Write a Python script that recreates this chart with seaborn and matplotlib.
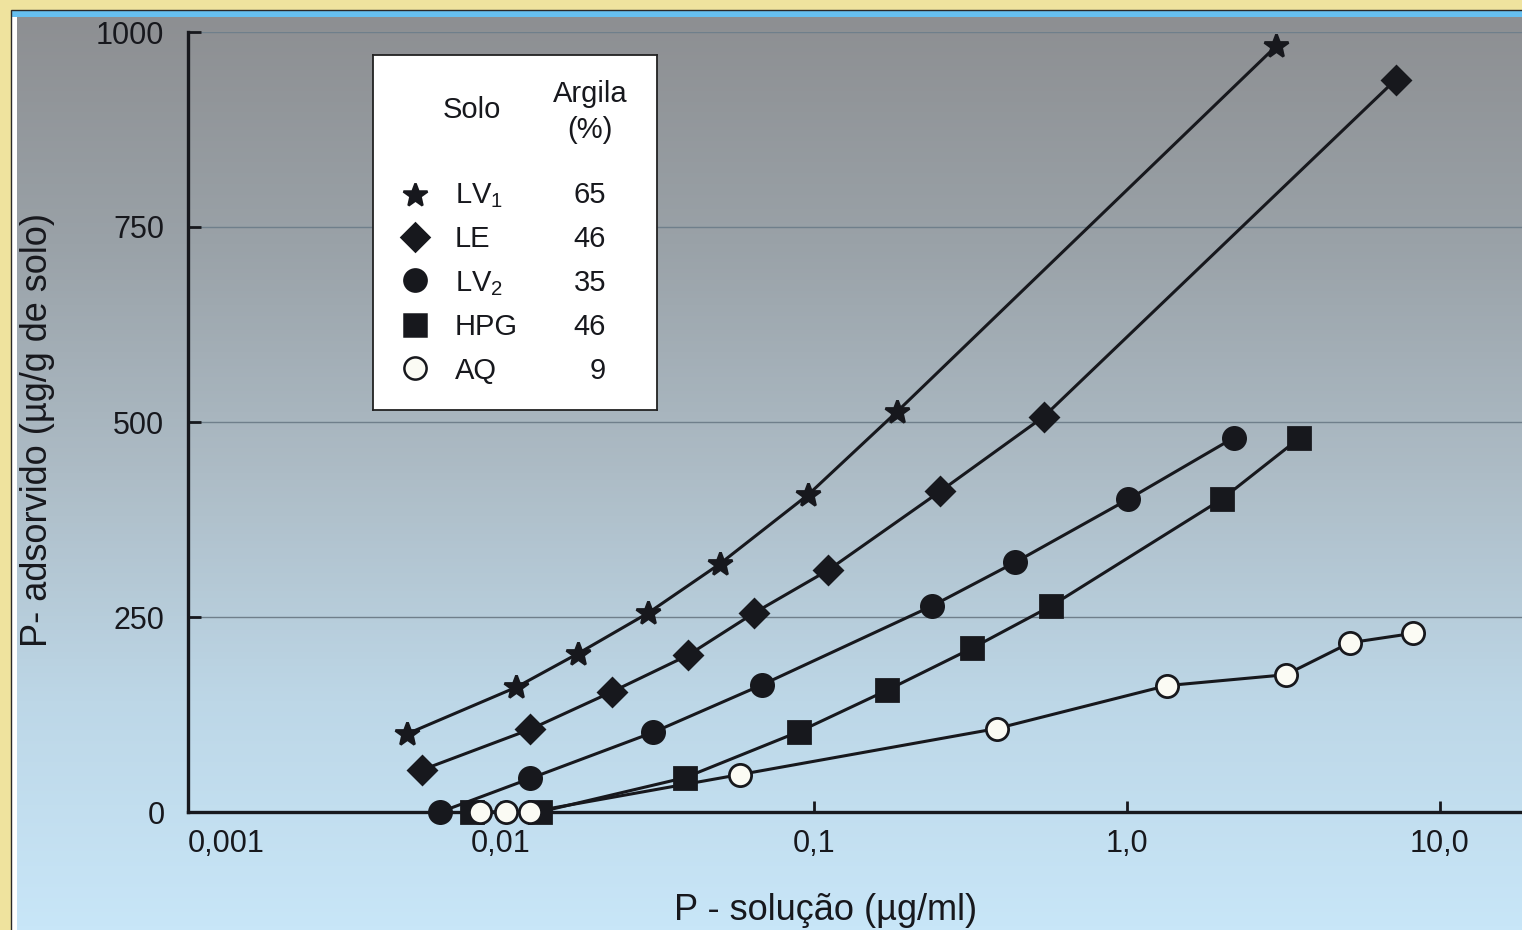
import numpy as np
import pandas as pd
import seaborn as sns
import matplotlib.pyplot as plt
from matplotlib.patches import Rectangle
from matplotlib.colors import LinearSegmentedColormap
from matplotlib.ticker import NullLocator

# values (P adsorption isotherms)
solos = ['LV1', 'LE', 'LV2', 'HPG', 'AQ']
solo_labels = [r'LV$_{\mathregular{1}}$', 'LE', r'LV$_{\mathregular{2}}$', 'HPG', 'AQ']
argila = [65, 46, 35, 46, 9]

lv1_x = [0.0050, 0.0112, 0.0176, 0.0295, 0.050, 0.096, 0.184, 3.0]
lv1_y = [100, 160, 203, 255, 318, 407, 513, 982]
le_x = [0.0056, 0.0124, 0.0226, 0.0396, 0.0643, 0.111, 0.253, 0.543, 7.23]
le_y = [54, 106, 154, 201, 255, 310, 411, 507, 939]
lv2_x = [0.0064, 0.0124, 0.0306, 0.0682, 0.238, 0.439, 1.01, 2.20]
lv2_y = [0, 43, 102, 163, 264, 320, 401, 480]
hpg_x = [0.0081, 0.0133, 0.0387, 0.0896, 0.171, 0.320, 0.572, 2.01, 3.55]
hpg_y = [0, 0, 44, 103, 156, 210, 264, 401, 479]
aq_x = [0.0086, 0.0104, 0.0124, 0.058, 0.384, 1.34, 3.22, 5.16, 8.20]
aq_y = [0, 0, 0, 48, 107, 162, 176, 217, 229]

xticks = [0.001, 0.01, 0.1, 1, 10]
xticklabels = ['0,001', '0,01', '0,1', '1,0', '10,0']
yticks = [0, 250, 500, 750, 1000]

series = {'LV1': (lv1_x, lv1_y), 'LE': (le_x, le_y), 'LV2': (lv2_x, lv2_y),
          'HPG': (hpg_x, hpg_y), 'AQ': (aq_x, aq_y)}
df = pd.concat([pd.DataFrame({'solo': k, 'x': v[0], 'y': v[1]}) for k, v in series.items()])

sns.set_style('ticks')
plt.rcParams['font.family'] = ['Liberation Sans', 'DejaVu Sans']
plt.rcParams['mathtext.fontset'] = 'custom'
plt.rcParams['mathtext.rm'] = 'Liberation Sans'

ink = '#17181d'
mk = {'LV1': ('*', 18, ink), 'LE': ('D', 14, ink), 'LV2': ('o', 16, ink),
      'HPG': ('s', 15.5, ink), 'AQ': ('o', 16, '#fbfbf4')}

W, H = 1522, 930
fig = plt.figure(figsize=(W / 100, H / 100), dpi=100, facecolor='#efe39e')

# background gradient (grey at top -> light blue at bottom)
bg = fig.add_axes([17 / W, 0, 1 - 17 / W, 1 - 17 / H], zorder=-2)
cmap = LinearSegmentedColormap.from_list('bg', [(0, '#8d8f92'), (0.25, '#9aa2a8'),
                                                (0.5, '#adbcc6'), (0.75, '#bdd7e7'),
                                                (1, '#c8e6f8')])
bg.imshow(np.linspace(0, 1, 256)[:, None], aspect='auto', cmap=cmap)
bg.axis('off')
fig.patches.append(Rectangle((12 / W, 0), 5 / W, 1 - 11 / H, transform=fig.transFigure,
                             facecolor='white', edgecolor='none', zorder=-1))
fig.patches.append(Rectangle((12 / W, 1 - 17 / H), 1, 6 / H, transform=fig.transFigure,
                             facecolor='#66c0f0', edgecolor='none', zorder=-1))
fig.patches.append(Rectangle((11 / W, -0.01), 2, 1 - 10 / H + 0.01, transform=fig.transFigure,
                             facecolor='none', edgecolor='#2a2a2a', lw=1, zorder=-1))

ax = fig.add_axes([188 / W, 1 - 812 / H, 1 - 188 / W, 780 / H])
ax.set_facecolor('none')

for s in solos:
    m, ms, fc = mk[s]
    sns.lineplot(data=df[df.solo == s], x='x', y='y', ax=ax, estimator=None, sort=False,
                 color=ink, lw=2.2, marker=m, ms=ms, markerfacecolor=fc,
                 markeredgecolor=ink, markeredgewidth=2.0, clip_on=False, zorder=3)

ax.set_xscale('log')
ax.set_xlim(0.001, 18.3)
ax.set_ylim(0, 1000)
ax.set_xticks(xticks)
ax.set_xticklabels(xticklabels)
ax.xaxis.set_minor_locator(NullLocator())
ax.set_yticks(yticks)
ax.set_yticklabels([str(v) for v in yticks])
ax.get_xticklabels()[0].set_ha('left')
ax.tick_params(axis='x', direction='in', length=8, width=2, pad=12, labelsize=22,
               colors=ink)
ax.tick_params(axis='y', direction='in', length=9, width=2, pad=17, labelsize=22,
               colors=ink)
ax.yaxis.grid(True, color='#6f7f8b', lw=1.0)
ax.xaxis.grid(False)
for side in ['top', 'right']:
    ax.spines[side].set_visible(False)
for side in ['left', 'bottom']:
    ax.spines[side].set_linewidth(2.4)
    ax.spines[side].set_color(ink)

ax.set_xlabel('P - solução (µg/ml)', fontsize=26, color=ink)
ax.xaxis.set_label_coords(0.478, -0.104)
ax.set_ylabel('P- adsorvido (µg/g de solo)', fontsize=26, color=ink)
ax.yaxis.set_label_coords(-0.10, 0.49)

# legend box as a small table
leg = fig.add_axes([373 / W, 1 - 410 / H, 284 / W, 355 / H])
leg.set_xlim(0, 1)
leg.set_ylim(0, 1)
leg.set_xticks([])
leg.set_yticks([])
leg.set_facecolor('white')
for sp in leg.spines.values():
    sp.set_color('#222222')
    sp.set_linewidth(1.3)

fs = 21
leg.text(0.348, 0.823, 'Solo', ha='center', va='baseline', fontsize=fs, color=ink)
leg.text(0.764, 0.868, 'Argila', ha='center', va='baseline', fontsize=fs, color=ink)
leg.text(0.764, 0.766, '(%)', ha='center', va='baseline', fontsize=fs, color=ink)
row_base = [0.583, 0.459, 0.335, 0.211, 0.087]
row_mark = [0.606, 0.487, 0.366, 0.239, 0.118]
for i, s in enumerate(solos):
    m, ms, fc = mk[s]
    leg.plot([0.148], [row_mark[i]], marker=m, ms=ms, markerfacecolor=fc,
             markeredgecolor=ink, markeredgewidth=1.8, ls='none')
    leg.text(0.289, row_base[i], solo_labels[i], ha='left', va='baseline', fontsize=fs,
             color=ink)
    leg.text(0.820, row_base[i], str(argila[i]), ha='right', va='baseline', fontsize=fs,
             color=ink)

fig.savefig('out.png', dpi=100, facecolor=fig.get_facecolor())
